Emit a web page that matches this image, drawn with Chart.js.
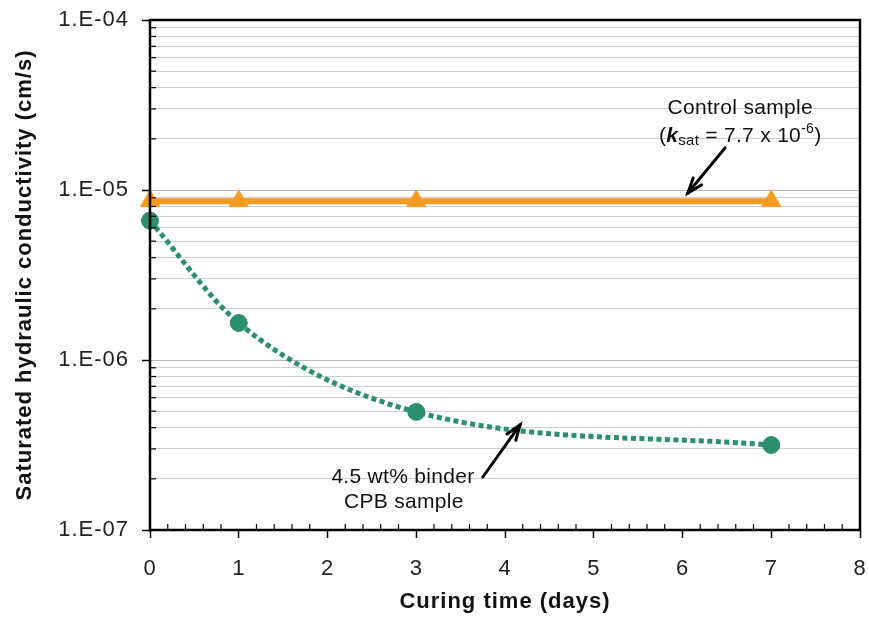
<!DOCTYPE html>
<html>
<head>
<meta charset="utf-8">
<script src="https://cdn.jsdelivr.net/npm/chart.js@4"></script>
<style>
  body { margin: 0; background: #fff; }
  #wrap { width: 869px; height: 617px; }
</style>
</head>
<body>
<div id="wrap"><canvas id="ksat" width="869" height="617"></canvas></div>
<script>
// curing time (days)
const controlDays = [0, 1, 3, 7];
const controlK = [8.6e-6, 8.6e-6, 8.6e-6, 8.6e-6];
const cpbDays = [0, 1, 3, 7];
const cpbK = [6.6e-6, 1.65e-6, 4.95e-7, 3.16e-7];
const xTicks = [0, 1, 2, 3, 4, 5, 6, 7, 8];
const yDecades = [1e-7, 1e-6, 1e-5, 1e-4];

const FONT = '"Liberation Sans", Arial, sans-serif';
const ORANGE = '#f59b1f';
const GREEN = '#2a8f6a';

const toPoints = (xs, ys) => xs.map((x, i) => ({ x: x, y: ys[i] }));

const isDecade = v => Math.abs(Math.log10(v) - Math.round(Math.log10(v))) < 1e-9;

// the scanned figure has fairly loose lettering
const spacing = {
  id: 'spacing',
  beforeDraw(chart) { chart.ctx.letterSpacing = '1px'; }
};

// box, inner minor ticks and the two callouts
const extras = {
  id: 'extras',
  afterDraw(chart) {
    const ctx = chart.ctx;
    const a = chart.chartArea;
    const xs = chart.scales.x, ys = chart.scales.y;
    ctx.save();
    ctx.letterSpacing = '0.3px';

    // minor ticks on x, pointing in
    ctx.strokeStyle = '#000';
    ctx.lineWidth = 1.2;
    for (let i = 1; i < 40; i++) {
      if (i % 5 === 0) continue;
      const px = xs.getPixelForValue(i * 0.2);
      ctx.beginPath();
      ctx.moveTo(px, a.bottom);
      ctx.lineTo(px, a.bottom - 6);
      ctx.stroke();
    }
    // minor ticks on y, pointing in
    ys.ticks.forEach(t => {
      if (isDecade(t.value)) return;
      const py = ys.getPixelForValue(t.value);
      ctx.beginPath();
      ctx.moveTo(a.left, py);
      ctx.lineTo(a.left + 6, py);
      ctx.stroke();
    });

    // frame
    ctx.lineWidth = 2.5;
    ctx.strokeRect(a.left, a.top, a.right - a.left, a.bottom - a.top);

    // text
    ctx.fillStyle = '#111';
    ctx.textBaseline = 'middle';
    ctx.textAlign = 'center';
    ctx.font = '21px ' + FONT;
    ctx.fillText('Control sample', xs.getPixelForValue(6.65), ys.getPixelForValue(3.03e-5));
    ctx.fillText('4.5 wt% binder', xs.getPixelForValue(2.85), ys.getPixelForValue(2.05e-7));
    ctx.fillText('CPB sample', xs.getPixelForValue(2.86), ys.getPixelForValue(1.46e-7));

    // (k_sat = 7.7 x 10^-6)
    const parts = [
      { t: '(', f: '21px ' + FONT, dy: 0 },
      { t: 'k', f: 'italic bold 21px ' + FONT, dy: 0 },
      { t: 'sat', f: '15px ' + FONT, dy: 5 },
      { t: ' = 7.7 x 10', f: '21px ' + FONT, dy: 0 },
      { t: '-6', f: '14px ' + FONT, dy: -7 },
      { t: ')', f: '21px ' + FONT, dy: 0 }
    ];
    let total = 0;
    parts.forEach(p => { ctx.font = p.f; p.w = ctx.measureText(p.t).width; total += p.w; });
    let cx = xs.getPixelForValue(6.65) - total / 2;
    const cy = ys.getPixelForValue(2.08e-5);
    ctx.textAlign = 'left';
    parts.forEach(p => {
      ctx.font = p.f;
      ctx.fillText(p.t, cx, cy + p.dy);
      cx += p.w;
    });

    // arrows
    const arrow = (x1, y1, x2, y2) => {
      const p1x = xs.getPixelForValue(x1), p1y = ys.getPixelForValue(y1);
      const p2x = xs.getPixelForValue(x2), p2y = ys.getPixelForValue(y2);
      const ang = Math.atan2(p2y - p1y, p2x - p1x);
      ctx.strokeStyle = '#000';
      ctx.lineWidth = 3;
      ctx.lineCap = 'round';
      ctx.beginPath();
      ctx.moveTo(p1x, p1y);
      ctx.lineTo(p2x, p2y);
      ctx.stroke();
      ctx.beginPath();
      ctx.moveTo(p2x - 16 * Math.cos(ang - 0.35), p2y - 16 * Math.sin(ang - 0.35));
      ctx.lineTo(p2x, p2y);
      ctx.lineTo(p2x - 16 * Math.cos(ang + 0.35), p2y - 16 * Math.sin(ang + 0.35));
      ctx.stroke();
    };
    arrow(6.48, 1.77e-5, 6.06, 9.6e-6);
    arrow(3.75, 2.05e-7, 4.17, 4.15e-7);

    ctx.restore();
  }
};

const ctx = document.querySelector('#ksat');
const ksatChart = new Chart(ctx, {
  type: 'line',
  data: {
    datasets: [
      {
        label: 'Control sample',
        data: toPoints(controlDays, controlK),
        borderColor: ORANGE,
        backgroundColor: ORANGE,
        borderWidth: 6,
        pointStyle: 'triangle',
        pointRadius: 11,
        pointHoverRadius: 11,
        pointBorderWidth: 1,
        tension: 0,
        clip: false
      },
      {
        label: '4.5 wt% binder CPB sample',
        data: toPoints(cpbDays, cpbK),
        borderColor: GREEN,
        backgroundColor: GREEN,
        borderWidth: 5,
        borderDash: [5, 3.5],
        borderCapStyle: 'butt',
        cubicInterpolationMode: 'monotone',
        pointStyle: 'circle',
        pointRadius: 8.5,
        pointHoverRadius: 8.5,
        pointBorderWidth: 1,
        clip: false
      }
    ]
  },
  options: {
    responsive: false,
    animation: false,
    layout: { autoPadding: false, padding: { top: 20, right: 9, left: 0, bottom: 0 } },
    plugins: { legend: { display: false }, tooltip: { enabled: false } },
    scales: {
      x: {
        type: 'linear',
        min: 0,
        max: 8,
        afterFit: s => { s.height = 87; s.paddingLeft = 0; s.paddingRight = 0; },
        afterBuildTicks: s => { s.ticks = xTicks.map(v => ({ value: v })); },
        border: { display: false },
        grid: { drawOnChartArea: false, tickLength: 8, tickColor: '#000', tickWidth: 1.5 },
        ticks: { font: { family: FONT, size: 22 }, color: '#222', padding: 18, maxRotation: 0 },
        title: {
          display: true,
          text: 'Curing time (days)',
          font: { family: FONT, size: 22, weight: 'bold' },
          color: '#111',
          padding: { top: 2, bottom: 2 }
        }
      },
      y: {
        type: 'logarithmic',
        min: yDecades[0],
        max: yDecades[yDecades.length - 1],
        afterFit: s => { s.width = 150; s.paddingTop = 0; s.paddingBottom = 0; },
        afterBuildTicks: s => {
          const t = [];
          for (let e = -7; e < -4; e++) {
            for (let m = 1; m <= 9; m++) t.push(m * Math.pow(10, e));
          }
          t.push(1e-4);
          s.ticks = t.map(v => ({ value: v }));
        },
        border: { display: false },
        grid: {
          color: c => (c.tick && isDecade(c.tick.value)) ? '#bbb' : '#cfcfcf',
          lineWidth: 1,
          tickLength: 8,
          tickColor: c => (c.tick && isDecade(c.tick.value)) ? '#000' : 'rgba(0,0,0,0)',
          tickWidth: 1.5
        },
        ticks: {
          autoSkip: false,
          padding: 13,
          color: '#222',
          font: { family: FONT, size: 22 },
          callback: v => isDecade(v) ? '1.E-0' + (-Math.round(Math.log10(v))) : ''
        },
        title: {
          display: true,
          text: 'Saturated hydraulic conductivity (cm/s)',
          font: { family: FONT, size: 22, weight: 'bold' },
          color: '#111',
          padding: { top: 12, bottom: 0 }
        }
      }
    }
  },
  plugins: [spacing, extras]
});
</script>
</body>
</html>
